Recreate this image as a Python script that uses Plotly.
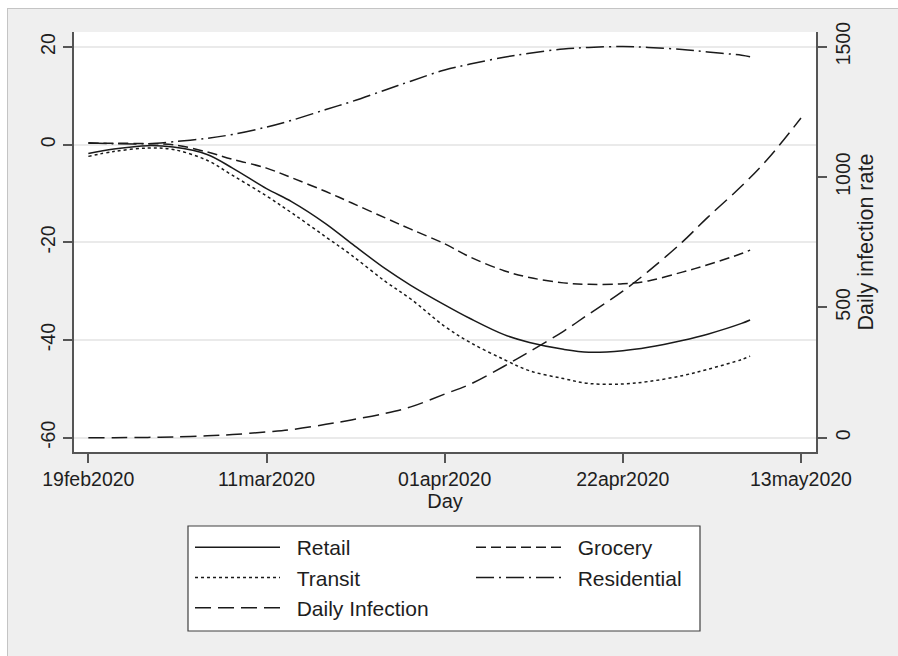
import plotly.graph_objects as go

# ---------------- data ----------------
mob_dates = ["2020-02-19", "2020-02-22", "2020-02-26", "2020-02-29", "2020-03-04",
             "2020-03-07", "2020-03-11", "2020-03-14", "2020-03-18", "2020-03-21",
             "2020-03-25", "2020-03-28", "2020-04-01", "2020-04-04", "2020-04-08",
             "2020-04-11", "2020-04-15", "2020-04-18", "2020-04-22", "2020-04-25",
             "2020-04-29", "2020-05-02", "2020-05-06", "2020-05-07"]
retail = [-1.8, -0.9, -0.2, -0.5, -2.0, -4.8, -9.0, -11.7, -16.2, -20.2, -25.4, -28.8,
          -32.8, -35.6, -38.9, -40.5, -41.9, -42.5, -42.2, -41.5, -40.1, -38.8, -36.6, -35.9]
grocery = [0.3, 0.3, 0.2, 0.0, -1.5, -3.0, -4.8, -6.8, -9.6, -11.9, -15.0, -17.3,
           -20.3, -23.0, -25.8, -27.2, -28.3, -28.6, -28.5, -27.9, -26.1, -24.6, -22.3, -21.6]
transit = [-2.4, -1.4, -0.7, -1.0, -3.2, -6.3, -10.5, -14.0, -18.9, -22.6, -28.0, -31.6,
           -37.2, -40.5, -44.0, -46.3, -47.9, -48.9, -49.0, -48.5, -47.3, -46.0, -44.0, -43.3]
residential = [0.4, 0.2, 0.2, 0.6, 1.3, 2.1, 3.6, 5.0, 7.2, 8.8, 11.2, 13.0,
               15.3, 16.5, 17.9, 18.7, 19.6, 19.9, 20.1, 19.9, 19.5, 19.0, 18.3, 18.0]

inf_dates = ["2020-02-19", "2020-02-22", "2020-02-26", "2020-02-29", "2020-03-04",
             "2020-03-07", "2020-03-11", "2020-03-14", "2020-03-18", "2020-03-21",
             "2020-03-25", "2020-03-28", "2020-04-01", "2020-04-04", "2020-04-08",
             "2020-04-11", "2020-04-15", "2020-04-18", "2020-04-22", "2020-04-25",
             "2020-04-29", "2020-05-02", "2020-05-06", "2020-05-09", "2020-05-13"]
infection = [0, 0, 1, 3, 7, 12, 22, 31, 51, 68, 93, 118, 167, 205, 274, 330, 408, 474,
             562, 638, 750, 845, 965, 1066, 1226]

x_tickvals = ["2020-02-19", "2020-03-11", "2020-04-01", "2020-04-22", "2020-05-13"]
x_ticktext = ["19feb2020", "11mar2020", "01apr2020", "22apr2020", "13may2020"]
y_tickvals = [-60, -40, -20, 0, 20]
y_ticktext = ["-60", "-40", "-20", "0", "20"]
y2_tickvals = [0, 500, 1000, 1500]
y2_ticktext = ["0", "500", "1000", "1500"]

# ---------------- layout geometry (screen pixels) ----------------
W, H = 898, 656
L, R, T, B = 74, 82, 32, 204
PW, PH = W - L - R, H - T - B


def px(xs):
    """screen x -> paper fraction"""
    return (xs - L) / PW


def py(ys):
    """screen y -> paper fraction"""
    return (H - B - ys) / PH


FONT = "Liberation Sans, Arial, sans-serif"
INK = "#1e1e1e"
LINE_COL = "#1a1a1a"
AX_COL = "#555555"

fig = go.Figure()

styles = [
    ("Retail", retail, "solid"),
    ("Grocery", grocery, "10px,5px"),
    ("Transit", transit, "3px,3px"),
    ("Residential", residential, "18px,5px,2px,5px"),
]
SP = "\u00a0\u00a0"
for name, vals, dash in styles:
    fig.add_trace(go.Scatter(
        x=mob_dates, y=vals, name=SP + name, mode="lines",
        line=dict(color=LINE_COL, width=1.5, dash=dash, shape="spline", smoothing=1.0),
        yaxis="y"))

fig.add_trace(go.Scatter(
    x=inf_dates, y=infection, name=SP + "Daily Infection", mode="lines",
    line=dict(color=LINE_COL, width=1.5, dash="16px,7px", shape="spline", smoothing=1.0),
    yaxis="y2"))

shapes = [
    # white strips outside the grey panel (left and top)
    dict(type="rect", xref="paper", yref="paper", x0=px(-5), x1=px(7), y0=py(H + 5), y1=py(-5),
         fillcolor="white", line=dict(width=0), layer="below"),
    dict(type="rect", xref="paper", yref="paper", x0=px(-5), x1=px(W + 5), y0=py(8), y1=py(-5),
         fillcolor="white", line=dict(width=0), layer="below"),
    # light frame line at top / left of the grey panel
    dict(type="line", xref="paper", yref="paper", x0=px(7.5), x1=px(7.5),
         y0=py(8), y1=py(H + 5), line=dict(color="#c4c4c4", width=1), layer="below"),
    dict(type="line", xref="paper", yref="paper", x0=px(7), x1=px(W + 5),
         y0=py(8.5), y1=py(8.5), line=dict(color="#c4c4c4", width=1), layer="below"),
    # legend box
    dict(type="rect", xref="paper", yref="paper", x0=px(188), x1=px(700), y0=py(631), y1=py(526),
         fillcolor="white", line=dict(color="#404040", width=1.2), layer="below"),
]

fig.update_layout(
    width=W, height=H,
    margin=dict(l=L, r=R, t=T, b=B),
    paper_bgcolor="#efefef",
    plot_bgcolor="white",
    font=dict(family=FONT, color=INK, size=20),
    showlegend=True,
    hovermode=False,
    shapes=shapes,
    xaxis=dict(
        type="date",
        range=["2020-02-17 07:26", "2020-05-14 18:29"],
        tickvals=x_tickvals, ticktext=x_ticktext,
        ticks="outside", ticklen=9, tickwidth=1.5, tickcolor=AX_COL,
        showline=True, linecolor=AX_COL, linewidth=1.5,
        showgrid=False, zeroline=False,
        tickfont=dict(size=19.5, family=FONT, color=INK),
        title=dict(text="Day", font=dict(size=20, family=FONT, color=INK), standoff=0),
    ),
    yaxis=dict(
        range=[-62.93, 23.07],
        tickvals=y_tickvals, ticktext=y_ticktext,
        tickangle=-90,
        ticks="outside", ticklen=9, tickwidth=1.5, tickcolor=AX_COL,
        showline=True, linecolor=AX_COL, linewidth=1.5,
        showgrid=True, gridcolor="#eaeaea", gridwidth=1.5,
        zeroline=False,
        tickfont=dict(size=19.5, family=FONT, color=INK),
    ),
    yaxis2=dict(
        overlaying="y", side="right",
        range=[-55, 1556],
        tickvals=y2_tickvals, ticktext=y2_ticktext,
        tickangle=-90,
        ticks="outside", ticklen=9, tickwidth=1.5, tickcolor=AX_COL,
        showline=True, linecolor=AX_COL, linewidth=1.5,
        showgrid=False, zeroline=False,
        tickfont=dict(size=19.5, family=FONT, color=INK),
        title=dict(text="Daily infection rate", font=dict(size=21.5, family=FONT, color=INK),
                   standoff=3),
    ),
    legend=dict(
        orientation="h",
        x=px(190), xanchor="left",
        y=py(527), yanchor="top",
        bgcolor="rgba(0,0,0,0)", borderwidth=0,
        entrywidth=181, entrywidthmode="pixels",
        itemwidth=85,
        traceorder="normal",
        font=dict(size=21, family=FONT, color=INK),
    ),
)

fig.write_html(
    "out.html",
    config={"displayModeBar": False, "staticPlot": False},
    post_script="document.documentElement.style.overflow='hidden';"
                "document.body.style.overflow='hidden';"
                "document.body.style.margin='0';",
)
